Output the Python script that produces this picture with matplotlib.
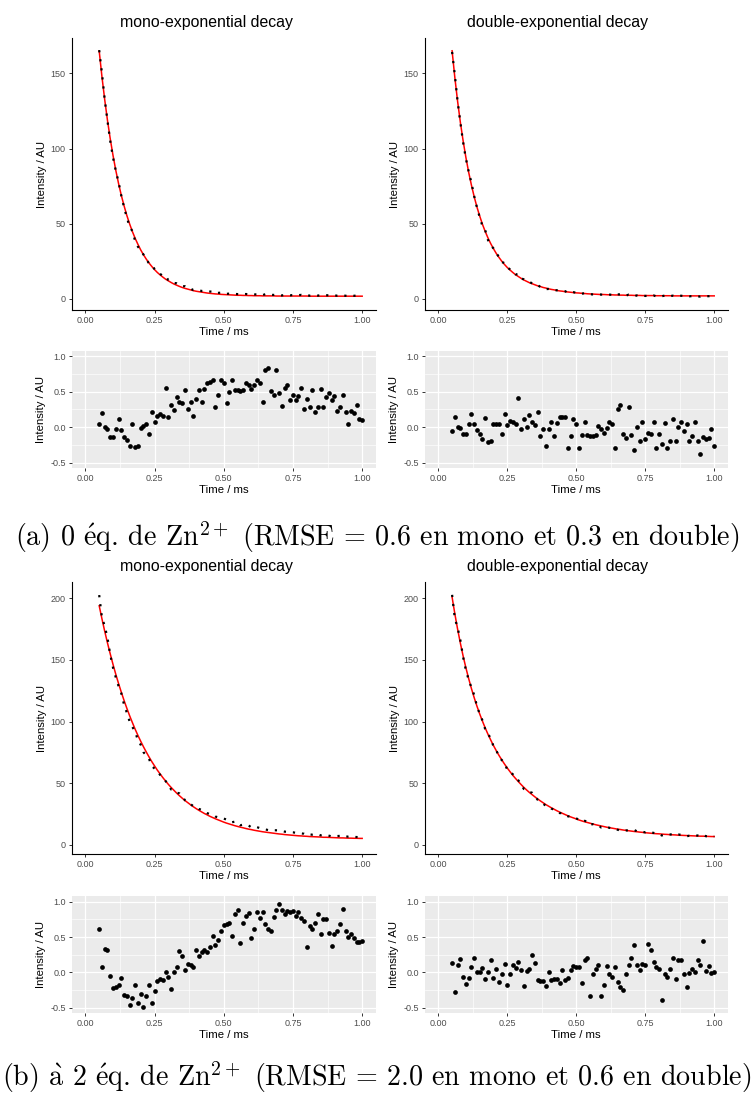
import numpy as np
import matplotlib
matplotlib.use("Agg")
import matplotlib.pyplot as plt

# time grid of the decay (ms)
time_ms = [0.05, 0.06, 0.07, 0.08, 0.09, 0.10, 0.11, 0.12, 0.13, 0.14,
           0.15, 0.16, 0.17, 0.18, 0.19, 0.20, 0.21, 0.22, 0.23, 0.24,
           0.25, 0.26, 0.27, 0.28, 0.29, 0.30, 0.31, 0.32, 0.33, 0.34,
           0.35, 0.36, 0.37, 0.38, 0.39, 0.40, 0.41, 0.42, 0.43, 0.44,
           0.45, 0.46, 0.47, 0.48, 0.49, 0.50, 0.51, 0.52, 0.53, 0.54,
           0.55, 0.56, 0.57, 0.58, 0.59, 0.60, 0.61, 0.62, 0.63, 0.64,
           0.65, 0.66, 0.67, 0.68, 0.69, 0.70, 0.71, 0.72, 0.73, 0.74,
           0.75, 0.76, 0.77, 0.78, 0.79, 0.80, 0.81, 0.82, 0.83, 0.84,
           0.85, 0.86, 0.87, 0.88, 0.89, 0.90, 0.91, 0.92, 0.93, 0.94,
           0.95, 0.96, 0.97, 0.98, 0.99, 1.00]

# fitted curves (red lines)
fit_mono_a = [165.0, 147.8, 132.5, 118.7, 106.4, 95.4, 85.5, 76.7, 68.8, 61.8,
              55.4, 49.8, 44.7, 40.2, 36.2, 32.5, 29.3, 26.4, 23.8, 21.5,
              19.4, 17.5, 15.9, 14.4, 13.0, 11.9, 10.8, 9.8, 9.0, 8.2,
              7.5, 6.9, 6.4, 5.9, 5.4, 5.0, 4.7, 4.4, 4.1, 3.8,
              3.6, 3.4, 3.2, 3.1, 2.9, 2.8, 2.7, 2.6, 2.5, 2.4,
              2.3, 2.3, 2.2, 2.2, 2.1, 2.1, 2.0, 2.0, 2.0, 1.9,
              1.9, 1.9, 1.9, 1.9, 1.8, 1.8, 1.8, 1.8, 1.8, 1.8,
              1.8, 1.8, 1.8, 1.8, 1.8, 1.8, 1.7, 1.7, 1.7, 1.7,
              1.7, 1.7, 1.7, 1.7, 1.7, 1.7, 1.7, 1.7, 1.7, 1.7,
              1.7, 1.7, 1.7, 1.7, 1.7, 1.7]
fit_double_a = [165.1, 147.2, 131.4, 117.4, 105.1, 94.1, 84.3, 75.7, 68.0, 61.1,
                55.1, 49.6, 44.8, 40.5, 36.7, 33.3, 30.2, 27.5, 25.0, 22.8,
                20.8, 19.1, 17.5, 16.0, 14.8, 13.6, 12.5, 11.6, 10.7, 10.0,
                9.3, 8.6, 8.1, 7.5, 7.1, 6.6, 6.2, 5.9, 5.5, 5.2,
                5.0, 4.7, 4.5, 4.3, 4.1, 3.9, 3.8, 3.6, 3.5, 3.3,
                3.2, 3.1, 3.0, 2.9, 2.8, 2.8, 2.7, 2.6, 2.6, 2.5,
                2.5, 2.4, 2.4, 2.3, 2.3, 2.3, 2.2, 2.2, 2.2, 2.1,
                2.1, 2.1, 2.1, 2.1, 2.0, 2.0, 2.0, 2.0, 2.0, 2.0,
                1.9, 1.9, 1.9, 1.9, 1.9, 1.9, 1.9, 1.9, 1.9, 1.9,
                1.9, 1.9, 1.9, 1.9, 1.9, 1.9]
fit_mono_b = [194.0, 183.4, 173.3, 163.8, 154.9, 146.4, 138.4, 130.9, 123.8, 117.1,
              110.8, 104.8, 99.2, 93.8, 88.8, 84.1, 79.6, 75.4, 71.4, 67.6,
              64.1, 60.7, 57.6, 54.6, 51.8, 49.1, 46.6, 44.3, 42.0, 39.9,
              37.9, 36.0, 34.3, 32.6, 31.0, 29.5, 28.1, 26.8, 25.5, 24.4,
              23.2, 22.2, 21.2, 20.3, 19.4, 18.5, 17.7, 17.0, 16.3, 15.6,
              15.0, 14.4, 13.9, 13.3, 12.8, 12.4, 11.9, 11.5, 11.1, 10.7,
              10.4, 10.1, 9.8, 9.5, 9.2, 8.9, 8.7, 8.4, 8.2, 8.0,
              7.8, 7.6, 7.4, 7.3, 7.1, 7.0, 6.8, 6.7, 6.6, 6.5,
              6.4, 6.2, 6.2, 6.1, 6.0, 5.9, 5.8, 5.7, 5.7, 5.6,
              5.5, 5.5, 5.4, 5.4, 5.3, 5.3]
fit_double_b = [201.0, 187.4, 175.0, 163.6, 153.2, 143.7, 135.0, 126.9, 119.5, 112.6,
                106.3, 100.4, 94.9, 89.8, 85.1, 80.6, 76.5, 72.6, 69.0, 65.6,
                62.4, 59.4, 56.5, 53.9, 51.4, 49.0, 46.7, 44.6, 42.6, 40.8,
                39.0, 37.3, 35.7, 34.2, 32.7, 31.4, 30.1, 28.9, 27.7, 26.6,
                25.6, 24.6, 23.6, 22.7, 21.9, 21.1, 20.2, 19.5, 18.8, 18.2,
                17.6, 17.0, 16.4, 15.9, 15.4, 14.9, 14.4, 14.0, 13.6, 13.2,
                12.8, 12.5, 12.1, 11.8, 11.5, 11.2, 10.9, 10.7, 10.4, 10.2,
                9.9, 9.7, 9.5, 9.3, 9.1, 9.0, 8.8, 8.6, 8.5, 8.3,
                8.2, 8.1, 7.9, 7.8, 7.7, 7.6, 7.5, 7.4, 7.3, 7.2,
                7.1, 7.1, 7.0, 6.9, 6.8, 6.8]

# weighted residuals (lower panels)
resid_mono_a = [0.04, 0.20, 0.01, -0.03, -0.14, -0.14, -0.03, 0.11, -0.04, -0.14,
                -0.18, -0.26, 0.05, -0.28, -0.26, -0.01, 0.02, 0.05, -0.09, 0.22,
                0.08, 0.16, 0.18, 0.16, 0.55, 0.15, 0.32, 0.24, 0.42, 0.36,
                0.34, 0.53, 0.25, 0.36, 0.16, 0.40, 0.52, 0.36, 0.54, 0.62,
                0.64, 0.67, 0.29, 0.46, 0.67, 0.62, 0.34, 0.50, 0.66, 0.52,
                0.52, 0.51, 0.53, 0.63, 0.59, 0.54, 0.60, 0.66, 0.63, 0.36,
                0.80, 0.84, 0.51, 0.46, 0.80, 0.48, 0.30, 0.55, 0.59, 0.38,
                0.46, 0.38, 0.44, 0.56, 0.25, 0.40, 0.29, 0.52, 0.21, 0.29,
                0.54, 0.28, 0.43, 0.48, 0.38, 0.44, 0.23, 0.29, 0.46, 0.22,
                0.04, 0.23, 0.20, 0.31, 0.11, 0.10]
resid_double_a = [-0.06, 0.14, 0.00, -0.01, -0.10, -0.09, 0.05, 0.19, 0.05, -0.04,
                  -0.10, -0.17, 0.13, -0.21, -0.19, 0.04, 0.05, 0.05, -0.10, 0.19,
                  0.03, 0.09, 0.08, 0.05, 0.41, -0.02, 0.12, 0.01, 0.17, 0.08,
                  0.03, 0.21, -0.12, -0.03, -0.27, -0.03, 0.07, -0.13, 0.06, 0.14,
                  0.14, 0.15, -0.30, -0.13, 0.11, 0.05, -0.30, -0.11, 0.07, -0.11,
                  -0.12, -0.13, -0.11, 0.02, -0.02, -0.08, -0.01, 0.08, 0.04, -0.30,
                  0.26, 0.31, -0.10, -0.15, 0.28, -0.11, -0.32, 0.00, -0.20, 0.07,
                  -0.17, -0.08, -0.10, 0.07, -0.30, -0.10, -0.24, 0.06, -0.30, -0.19,
                  0.11, -0.19, 0.01, 0.07, -0.05, 0.04, -0.20, -0.12, 0.08, -0.19,
                  -0.38, -0.14, -0.17, -0.15, -0.03, -0.26]
resid_mono_b = [0.62, 0.07, 0.33, 0.31, -0.05, -0.22, -0.21, -0.18, -0.08, -0.32,
                -0.34, -0.46, -0.36, -0.18, -0.44, -0.31, -0.49, -0.33, -0.18, -0.44,
                -0.27, -0.12, -0.10, -0.11, 0.00, -0.07, -0.24, 0.00, 0.07, 0.30,
                0.23, 0.04, 0.12, 0.10, 0.07, 0.31, 0.23, 0.29, 0.32, 0.29,
                0.36, 0.51, 0.39, 0.46, 0.58, 0.67, 0.68, 0.70, 0.52, 0.83,
                0.88, 0.41, 0.70, 0.80, 0.84, 0.48, 0.61, 0.86, 0.77, 0.86,
                0.68, 0.62, 0.58, 0.78, 0.88, 0.97, 0.88, 0.82, 0.87, 0.86,
                0.87, 0.80, 0.86, 0.77, 0.73, 0.36, 0.66, 0.62, 0.70, 0.82,
                0.55, 0.76, 0.76, 0.56, 0.38, 0.55, 0.58, 0.68, 0.89, 0.59,
                0.50, 0.54, 0.48, 0.43, 0.43, 0.44]
resid_double_b = [0.13, -0.28, 0.10, 0.19, -0.07, -0.16, -0.08, 0.07, 0.20, 0.00,
                  0.00, 0.06, -0.10, 0.00, 0.18, -0.08, 0.05, -0.14, -0.02, 0.12,
                  -0.18, -0.03, 0.11, 0.06, 0.14, 0.04, -0.19, 0.02, 0.05, 0.24,
                  0.13, -0.11, -0.12, -0.12, -0.19, 0.01, -0.11, -0.09, -0.09, -0.15,
                  0.04, -0.11, -0.08, 0.03, 0.09, 0.08, 0.08, -0.15, 0.17, 0.20,
                  -0.34, -0.03, 0.05, 0.10, -0.33, -0.18, 0.09, -0.03, -0.06, 0.07,
                  -0.14, -0.21, -0.25, -0.02, 0.10, 0.20, 0.39, 0.10, 0.04, 0.12,
                  0.11, 0.40, 0.31, 0.15, 0.08, 0.05, -0.39, -0.03, -0.06, 0.05,
                  0.20, -0.09, 0.17, 0.18, -0.03, -0.21, -0.01, 0.05, 0.01, 0.17,
                  0.10, 0.44, 0.02, 0.09, -0.01, 0.00]

titles = ["mono-exponential decay", "double-exponential decay"]
# accents typeset through mathtext so they come out in Computer Modern
captions = [r"(a) 0 $\acute{\mathrm{e}}$q. de Zn$^{2+}$ (RMSE = 0.6 en mono et 0.3 en double)",
            r"(b) $\grave{\mathrm{a}}$ 2 $\acute{\mathrm{e}}$q. de Zn$^{2+}$ (RMSE = 2.0 en mono et 0.6 en double)"]
x_ticks = [0.0, 0.25, 0.5, 0.75, 1.0]
x_ticklabels = ["0.00", "0.25", "0.50", "0.75", "1.00"]
res_ticks = [-0.5, 0.0, 0.5, 1.0]
res_ticklabels = ["-0.5", "0.0", "0.5", "1.0"]

plt.rcParams["font.family"] = ["Liberation Sans", "DejaVu Sans"]
plt.rcParams["mathtext.fontset"] = "cm"

W, H = 754, 1097
fig = plt.figure(figsize=(W / 100, H / 100), dpi=100)


def add_ax(left, top, right, bottom):
    return fig.add_axes([left / W, 1 - bottom / H, (right - left) / W, (bottom - top) / H])


def style_ticks(ax):
    ax.tick_params(axis="both", which="major", direction="out", length=2.4, width=0.7,
                   color="#333333", labelcolor="#4D4D4D", labelsize=6.5, pad=1.8)
    ax.set_xticks(x_ticks)
    ax.set_xticklabels(x_ticklabels)
    ax.set_xlim(-0.05, 1.05)
    ax.set_xlabel("Time / ms", fontsize=8.2, labelpad=1.5)
    ax.set_ylabel("Intensity / AU", fontsize=8.2, labelpad=3)


def decay_panel(ax, fit, resid, yticks, ylim):
    t = np.array(time_ms)
    fit = np.array(fit)
    # measured signal = fit + weighted residual * sqrt(fit)
    data = fit + np.array(resid) * np.sqrt(fit)
    ax.plot(t, fit, color="red", lw=1.1, zorder=2)
    ax.plot(t, data, color="black", lw=1.6, ls=(0, (1, 3.1)), zorder=3)
    for side in ["top", "right"]:
        ax.spines[side].set_visible(False)
    for side in ["left", "bottom"]:
        ax.spines[side].set_color("black")
        ax.spines[side].set_linewidth(0.8)
    style_ticks(ax)
    ax.set_yticks(yticks)
    ax.set_ylim(*ylim)


def resid_panel(ax, resid):
    ax.set_facecolor("#EBEBEB")
    for side in ax.spines:
        ax.spines[side].set_visible(False)
    ax.set_xticks([0.125, 0.375, 0.625, 0.875], minor=True)
    ax.set_yticks([-0.25, 0.25, 0.75], minor=True)
    ax.grid(True, which="major", color="white", lw=0.9)
    ax.grid(True, which="minor", color="white", lw=0.45)
    ax.tick_params(which="minor", length=0)
    ax.set_axisbelow(True)
    ax.plot(time_ms, resid, "o", color="black", ms=3.4, mew=0)
    style_ticks(ax)
    ax.set_yticks(res_ticks)
    ax.set_yticklabels(res_ticklabels)
    ax.set_ylim(-0.575, 1.075)


# panel geometry in pixels (left, right) for the two columns
cols = [(71.5, 376), (424.5, 728)]
title_x = [206, 558]

a_fits = [fit_mono_a, fit_double_a]
a_res = [resid_mono_a, resid_double_a]
b_fits = [fit_mono_b, fit_double_b]
b_res = [resid_mono_b, resid_double_b]

for k in range(2):
    l, r = cols[k]
    # (a) 0 eq
    ax = add_ax(l, 38.3, r, 310)
    decay_panel(ax, a_fits[k], a_res[k], [0, 50, 100, 150], (-7.5, 173.4))
    fig.text(title_x[k] / W, 1 - 22.5 / H, titles[k], ha="center", va="center", fontsize=11.4)
    axr = add_ax(l, 351, r, 468)
    resid_panel(axr, a_res[k])

    # (b) 2 eq
    ax = add_ax(l, 581.7, r, 854.3)
    decay_panel(ax, b_fits[k], b_res[k], [0, 50, 100, 150, 200], (-7.6, 213.5))
    fig.text(title_x[k] / W, 1 - 567 / H, titles[k], ha="center", va="center", fontsize=11.4)
    axr = add_ax(l, 896.4, r, 1013)
    resid_panel(axr, b_res[k])

fig.text(377 / W, 1 - 537 / H, captions[0], ha="center", va="center", fontsize=20.2,
         family="cmr10")
fig.text(377 / W, 1 - 1077 / H, captions[1], ha="center", va="center", fontsize=20.2,
         family="cmr10")

fig.savefig("out.png", dpi=100)
